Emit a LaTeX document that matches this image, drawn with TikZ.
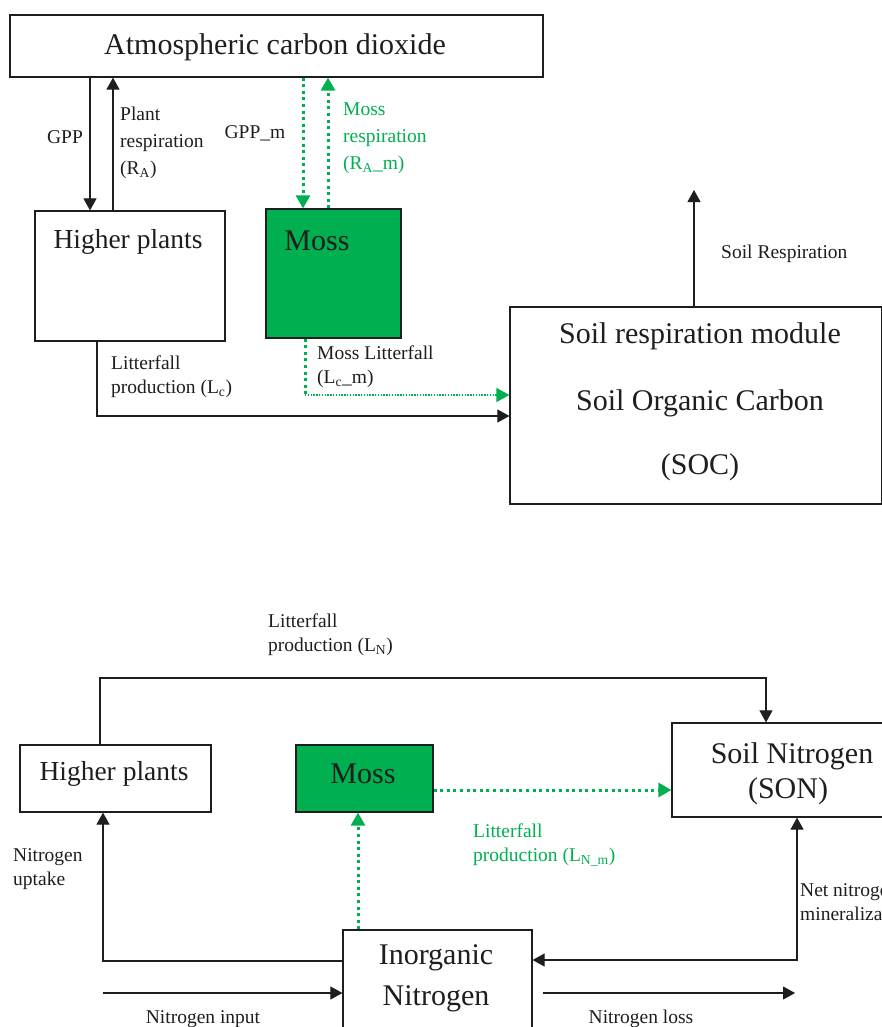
\documentclass[tikz,border=0pt]{standalone}
\usepackage{fontspec}
\setmainfont{Liberation Serif}
\usetikzlibrary{arrows.meta}
\definecolor{moss}{RGB}{0,176,80}
\definecolor{ink}{RGB}{30,30,30}
\begin{document}
\begin{tikzpicture}[x=1pt,y=-1pt,
  box/.style={draw=ink, line width=1.2pt, inner sep=0pt},
  mossbox/.style={box, fill=moss},
  big/.style={font=\fontsize{30}{40}\selectfont, text=ink, inner sep=0pt},
  hp/.style={font=\fontsize{27.5}{36}\selectfont, text=ink, inner sep=0pt},
  small/.style={font=\fontsize{19.5}{24}\selectfont, text=ink, align=left, anchor=west, inner sep=0pt},
  tip/.style={-{Triangle[length=12pt,width=13pt]}},
  arr/.style={draw=ink, line width=1.1pt, tip},
  gdot/.style={draw=moss, line width=3pt, dash pattern=on 3pt off 3.6pt},
  gthin/.style={draw=moss, line width=1.3pt, dash pattern=on 1.4pt off 1.4pt},
  gtip/.style={-{Triangle[length=13pt,width=14pt]}, moss}
]
\fill[white] (0,0) rectangle (882,1027);
\useasboundingbox (0,0) rectangle (882,1027);
\clip (0,0) rectangle (882,1027);

% ---------- carbon part ----------
\node[box, minimum width=533pt, minimum height=62pt] (atm) at (276.5,46) {};
\node[big] (atmt) at (275,47) {Atmospheric carbon dioxide};

\node[box, minimum width=190pt, minimum height=130pt] (hp1) at (130,276) {};
\node[hp] (hp1t) at (128,242) {Higher plants};

\node[mossbox, minimum width=135pt, minimum height=129pt] (moss1) at (333.5,273.5) {};
\node[big] (moss1t) at (317,241) {Moss};

\node[box, minimum width=372pt, minimum height=197pt] (soc) at (696,405.5) {};
\node[big] (soc1) at (700,336) {Soil respiration module};
\node[big] (soc2) at (700,403) {Soil Organic Carbon};
\node[big] (soc3) at (700,467) {(SOC)};

\coordinate (xg) at (90,0);
\coordinate (xr) at (113,0);
\coordinate (xgm) at (303,0);
\coordinate (xrm) at (328,0);
\coordinate (srtop) at (694,190);
\coordinate (lc) at (97,416);
\coordinate (lcm) at (305,395);

\draw[arr] (xg |- atm.south) -- (xg |- hp1.north);
\draw[arr] (xr |- hp1.north) -- (xr |- atm.south);
\draw[gdot, gtip] (xgm |- atm.south) -- (xgm |- moss1.north);
\draw[gdot, gtip] (xrm |- moss1.north) -- (xrm |- atm.south);
\draw[arr] (srtop |- soc.north) -- (srtop);
\draw[arr] (lc |- hp1.south) -- (lc) -- (lc -| soc.west);
\draw[gdot] (lcm |- moss1.south) -- (lcm);
\draw[gthin, gtip] (lcm) -- (lcm -| soc.west);

\node[small, anchor=center] (lgpp) at (65,137) {GPP};
\node[small, font=\fontsize{19.5}{27}\selectfont] (lpr) at (120,143) {Plant\\respiration\\(R\textsubscript{A})};
\node[small, anchor=center] (lgppm) at (255,133) {GPP\_m};
\node[small, text=moss, font=\fontsize{19.5}{27}\selectfont] (lmr) at (343,138) {Moss\\respiration\\(R\textsubscript{A}\_m)};
\node[small] (lsr) at (721,254) {Soil Respiration};
\node[small] (llc) at (111,377) {Litterfall\\production (L\textsubscript{c})};
\node[small] (llcm) at (317,367) {Moss Litterfall\\(L\textsubscript{c}\_m)};

% ---------- nitrogen part ----------
\node[box, minimum width=191pt, minimum height=67pt] (hp2) at (115.5,778.5) {};
\node[hp] (hp2t) at (114,774) {Higher plants};

\node[mossbox, minimum width=137pt, minimum height=67pt] (moss2) at (364.5,778.5) {};
\node[big] (moss2t) at (363,774) {Moss};

\node[box, minimum width=240pt, minimum height=94pt] (son) at (792,770) {};
\node[big] (son1) at (792,756) {Soil Nitrogen};
\node[big] (son2) at (788,791) {(SON)};

\node[box, minimum width=189pt, minimum height=120pt] (inorg) at (437.5,990) {};
\node[big] (in1) at (436,958) {Inorganic};
\node[big] (in2) at (436,999) {Nitrogen};

\coordinate (ln) at (100,678);
\coordinate (ln2) at (766,678);
\coordinate (ymso) at (0,790);
\coordinate (xim) at (358,0);
\coordinate (up) at (103,961);
\coordinate (nin) at (103,993);
\coordinate (mn) at (797,960);
\coordinate (l1) at (543,993);
\coordinate (l2) at (795,993);

\draw[arr] (ln |- hp2.north) -- (ln) -- (ln2) -- (ln2 |- son.north);
\draw[gdot, gtip] (moss2.east |- ymso) -- (son.west |- ymso);
\draw[gdot, gtip] (xim |- inorg.north) -- (xim |- moss2.south);
\draw[arr] (up -| inorg.west) -- (up) -- (up |- hp2.south);
\draw[arr] (nin) -- (nin -| inorg.west);
\draw[draw=ink, line width=1.1pt, {Triangle[length=12pt,width=13pt]}-{Triangle[length=12pt,width=13pt]}]
  (mn -| inorg.east) -- (mn) -- (mn |- son.south);
\draw[arr] (l1) -- (l2);

\node[small] (lln) at (268,635) {Litterfall\\production (L\textsubscript{N})};
\node[small, text=moss] (llnm) at (473,845) {Litterfall\\production (L\textsubscript{N\_m})};
\node[small] (lup) at (13,869) {Nitrogen\\uptake};
\node[small] (lnm) at (800,902) {Net nitrogen\\mineralization};
\node[small, anchor=center] (lin) at (203,1019) {Nitrogen input};
\node[small, anchor=center] (llo) at (641,1019) {Nitrogen loss};
\end{tikzpicture}
\end{document}
